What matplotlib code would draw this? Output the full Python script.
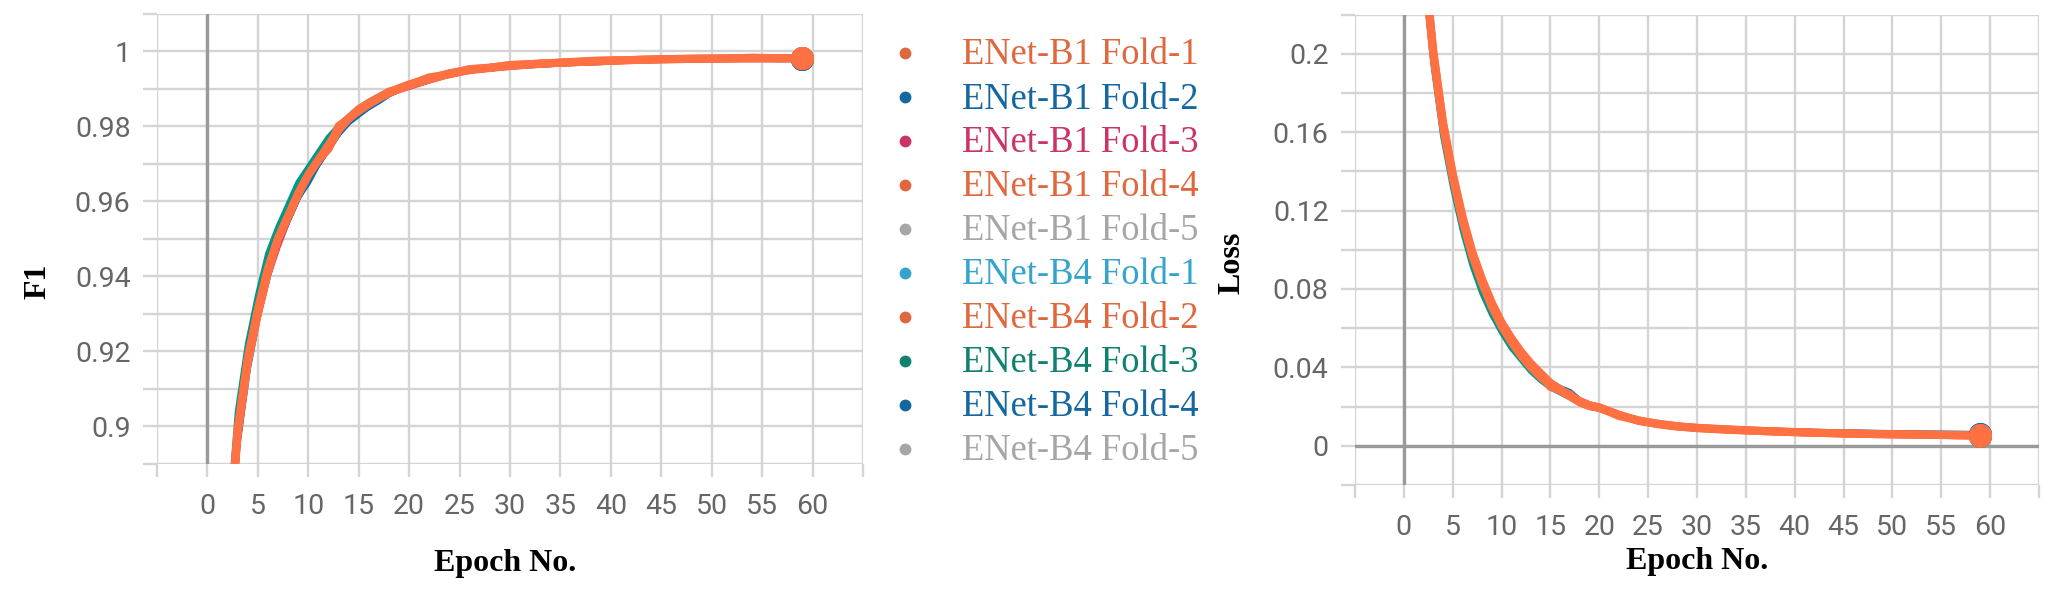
import matplotlib
matplotlib.use("Agg")
import matplotlib.pyplot as plt
from matplotlib.lines import Line2D

# ---------------- data ----------------
epochs = [0, 1, 2, 3, 4, 5, 6, 7, 8, 9, 10, 11, 12, 13, 14, 15, 16, 17, 18, 19,
          20, 22, 24, 26, 28, 30, 33, 36, 39, 42, 45, 48, 51, 54, 57, 59]

series_names = ["ENet-B1 Fold-1", "ENet-B1 Fold-2", "ENet-B1 Fold-3", "ENet-B1 Fold-4",
                "ENet-B1 Fold-5", "ENet-B4 Fold-1", "ENet-B4 Fold-2", "ENet-B4 Fold-3",
                "ENet-B4 Fold-4", "ENet-B4 Fold-5"]
legend_colors = ["#e0683f", "#15679f", "#cc3366", "#e0683f", "#a6a6a6",
                 "#35a4cc", "#e0683f", "#108070", "#15679f", "#a6a6a6"]
line_colors = ["#ff7043", "#0a6fb0", "#e8336e", "#ff7043", "#bbbbbb",
               "#33bbee", "#ff7043", "#009988", "#0a6fb0", "#bbbbbb"]

f1_b1_f1 = [0.700, 0.800, 0.865, 0.899, 0.918, 0.931, 0.942, 0.950, 0.956, 0.962, 0.967, 0.971, 0.974, 0.980, 0.982, 0.9845, 0.9860, 0.9876, 0.9892, 0.9898,
            0.9910, 0.9930, 0.9938, 0.9952, 0.9955, 0.9963, 0.9966, 0.9971, 0.9975, 0.9976, 0.9978, 0.9979, 0.9980, 0.9982, 0.9980, 0.9981]
f1_b1_f2 = [0.690, 0.795, 0.860, 0.895, 0.915, 0.929, 0.940, 0.949, 0.955, 0.961, 0.966, 0.970, 0.974, 0.978, 0.981, 0.9830, 0.9852, 0.9868, 0.9885, 0.9898,
            0.9908, 0.9922, 0.9938, 0.9948, 0.9953, 0.9958, 0.9963, 0.9968, 0.9970, 0.9975, 0.9976, 0.9978, 0.9979, 0.9978, 0.9978, 0.9979]
f1_b1_f3 = [0.695, 0.797, 0.862, 0.896, 0.916, 0.929, 0.940, 0.948, 0.955, 0.961, 0.966, 0.970, 0.974, 0.978, 0.981, 0.9835, 0.9855, 0.9872, 0.9886, 0.9896,
            0.9904, 0.9921, 0.9937, 0.9947, 0.9953, 0.9958, 0.9965, 0.9969, 0.9972, 0.9975, 0.9977, 0.9979, 0.9980, 0.9981, 0.9980, 0.9980]
f1_b1_f4 = [0.698, 0.799, 0.864, 0.898, 0.917, 0.930, 0.941, 0.950, 0.956, 0.962, 0.967, 0.971, 0.975, 0.979, 0.982, 0.9840, 0.9858, 0.9874, 0.9888, 0.9899,
            0.9909, 0.9924, 0.9939, 0.9949, 0.9955, 0.9960, 0.9966, 0.9970, 0.9973, 0.9976, 0.9978, 0.9979, 0.9980, 0.9980, 0.9981, 0.9981]
f1_b1_f5 = [0.702, 0.802, 0.866, 0.900, 0.919, 0.932, 0.943, 0.951, 0.957, 0.962, 0.967, 0.971, 0.975, 0.979, 0.982, 0.9842, 0.9860, 0.9875, 0.9889, 0.9900,
            0.9910, 0.9924, 0.9940, 0.9950, 0.9955, 0.9960, 0.9966, 0.9970, 0.9973, 0.9976, 0.9978, 0.9980, 0.9980, 0.9981, 0.9981, 0.9981]
f1_b4_f1 = [0.705, 0.805, 0.868, 0.902, 0.921, 0.934, 0.945, 0.952, 0.958, 0.964, 0.968, 0.972, 0.976, 0.980, 0.982, 0.9845, 0.9862, 0.9878, 0.9892, 0.9902,
            0.9912, 0.9927, 0.9942, 0.9951, 0.9957, 0.9962, 0.9967, 0.9971, 0.9974, 0.9977, 0.9979, 0.9980, 0.9981, 0.9981, 0.9981, 0.9981]
f1_b4_f2 = [0.700, 0.801, 0.866, 0.899, 0.918, 0.931, 0.942, 0.950, 0.956, 0.962, 0.967, 0.971, 0.974, 0.979, 0.982, 0.9844, 0.9862, 0.9876, 0.9890, 0.9901,
            0.9911, 0.9926, 0.9941, 0.9951, 0.9956, 0.9962, 0.9967, 0.9970, 0.9973, 0.9976, 0.9978, 0.9980, 0.9980, 0.9982, 0.9981, 0.9981]
f1_b4_f3 = [0.710, 0.810, 0.870, 0.904, 0.922, 0.935, 0.946, 0.953, 0.959, 0.965, 0.969, 0.973, 0.977, 0.980, 0.9825, 0.9848, 0.9865, 0.9880, 0.9893, 0.9903,
            0.9913, 0.9928, 0.9943, 0.9952, 0.9958, 0.9963, 0.9967, 0.9971, 0.9974, 0.9977, 0.9979, 0.9981, 0.9982, 0.9982, 0.9981, 0.9982]
f1_b4_f4 = [0.692, 0.796, 0.861, 0.896, 0.916, 0.930, 0.941, 0.949, 0.955, 0.961, 0.965, 0.970, 0.974, 0.978, 0.9810, 0.9832, 0.9850, 0.9866, 0.9884, 0.9897,
            0.9907, 0.9923, 0.9938, 0.9948, 0.9953, 0.9959, 0.9964, 0.9967, 0.9971, 0.9974, 0.9976, 0.9978, 0.9978, 0.9979, 0.9978, 0.9978]
f1_b4_f5 = [0.703, 0.803, 0.867, 0.901, 0.920, 0.933, 0.944, 0.951, 0.957, 0.963, 0.968, 0.972, 0.975, 0.979, 0.982, 0.9843, 0.9861, 0.9877, 0.9891, 0.9901,
            0.9911, 0.9926, 0.9941, 0.9950, 0.9956, 0.9961, 0.9966, 0.9970, 0.9974, 0.9977, 0.9979, 0.9980, 0.9981, 0.9981, 0.9981, 0.9981]

loss_b1_f1 = [0.450, 0.330, 0.252, 0.202, 0.165, 0.138, 0.116, 0.098, 0.084, 0.072, 0.062, 0.054, 0.047, 0.041, 0.036, 0.0300, 0.0282, 0.0262, 0.0222, 0.0205,
              0.0195, 0.0152, 0.0130, 0.0110, 0.0099, 0.0091, 0.0083, 0.0077, 0.0071, 0.0067, 0.0063, 0.0060, 0.0058, 0.0056, 0.0053, 0.0052]
loss_b1_f2 = [0.455, 0.334, 0.250, 0.199, 0.162, 0.136, 0.114, 0.096, 0.082, 0.070, 0.061, 0.053, 0.046, 0.040, 0.035, 0.0310, 0.0290, 0.0260, 0.0230, 0.0210,
              0.0198, 0.0160, 0.0130, 0.0114, 0.0101, 0.0093, 0.0086, 0.0080, 0.0075, 0.0071, 0.0068, 0.0066, 0.0064, 0.0062, 0.0061, 0.0060]
loss_b1_f3 = [0.452, 0.332, 0.251, 0.201, 0.164, 0.137, 0.115, 0.097, 0.083, 0.071, 0.061, 0.053, 0.046, 0.040, 0.0355, 0.0312, 0.0280, 0.0250, 0.0224, 0.0204,
              0.0192, 0.0156, 0.0127, 0.0111, 0.0098, 0.0090, 0.0082, 0.0076, 0.0070, 0.0066, 0.0062, 0.0059, 0.0057, 0.0055, 0.0053, 0.0052]
loss_b1_f4 = [0.449, 0.329, 0.250, 0.200, 0.163, 0.137, 0.115, 0.097, 0.083, 0.071, 0.061, 0.053, 0.046, 0.040, 0.035, 0.0310, 0.0282, 0.0252, 0.0222, 0.0202,
              0.0193, 0.0157, 0.0127, 0.0111, 0.0098, 0.0090, 0.0082, 0.0076, 0.0071, 0.0066, 0.0063, 0.0060, 0.0058, 0.0056, 0.0054, 0.0053]
loss_b1_f5 = [0.447, 0.328, 0.249, 0.199, 0.162, 0.136, 0.114, 0.096, 0.082, 0.070, 0.060, 0.052, 0.045, 0.039, 0.0345, 0.0305, 0.0278, 0.0250, 0.0220, 0.0200,
              0.0190, 0.0155, 0.0126, 0.0110, 0.0097, 0.0089, 0.0081, 0.0075, 0.0070, 0.0066, 0.0062, 0.0059, 0.0057, 0.0055, 0.0054, 0.0053]
loss_b4_f1 = [0.444, 0.325, 0.247, 0.197, 0.160, 0.134, 0.112, 0.094, 0.080, 0.069, 0.059, 0.051, 0.045, 0.039, 0.034, 0.0300, 0.0275, 0.0248, 0.0219, 0.0199,
              0.0189, 0.0154, 0.0125, 0.0109, 0.0096, 0.0088, 0.0080, 0.0075, 0.0069, 0.0065, 0.0062, 0.0059, 0.0057, 0.0055, 0.0053, 0.0052]
loss_b4_f2 = [0.450, 0.331, 0.252, 0.201, 0.165, 0.139, 0.117, 0.099, 0.085, 0.073, 0.063, 0.055, 0.048, 0.042, 0.037, 0.0320, 0.0288, 0.0257, 0.0228, 0.0207,
              0.0196, 0.0159, 0.0129, 0.0113, 0.0100, 0.0092, 0.0084, 0.0077, 0.0072, 0.0067, 0.0063, 0.0060, 0.0058, 0.0056, 0.0054, 0.0053]
loss_b4_f3 = [0.440, 0.322, 0.245, 0.195, 0.158, 0.132, 0.110, 0.092, 0.078, 0.067, 0.058, 0.050, 0.044, 0.038, 0.0335, 0.0298, 0.0272, 0.0246, 0.0218, 0.0198,
              0.0188, 0.0153, 0.0124, 0.0108, 0.0096, 0.0088, 0.0080, 0.0074, 0.0069, 0.0065, 0.0061, 0.0059, 0.0057, 0.0055, 0.0053, 0.0052]
loss_b4_f4 = [0.456, 0.335, 0.253, 0.202, 0.165, 0.138, 0.116, 0.098, 0.084, 0.072, 0.063, 0.055, 0.048, 0.042, 0.037, 0.0325, 0.0295, 0.0275, 0.0233, 0.0212,
              0.0200, 0.0162, 0.0131, 0.0115, 0.0102, 0.0094, 0.0087, 0.0081, 0.0076, 0.0072, 0.0069, 0.0067, 0.0065, 0.0063, 0.0062, 0.0061]
loss_b4_f5 = [0.446, 0.327, 0.248, 0.198, 0.161, 0.135, 0.113, 0.095, 0.081, 0.070, 0.060, 0.052, 0.045, 0.039, 0.0345, 0.0304, 0.0277, 0.0249, 0.0220, 0.0200,
              0.0190, 0.0155, 0.0126, 0.0110, 0.0097, 0.0089, 0.0081, 0.0075, 0.0070, 0.0066, 0.0062, 0.0059, 0.0057, 0.0055, 0.0054, 0.0053]

f1_series = [f1_b1_f1, f1_b1_f2, f1_b1_f3, f1_b1_f4, f1_b1_f5,
             f1_b4_f1, f1_b4_f2, f1_b4_f3, f1_b4_f4, f1_b4_f5]
loss_series = [loss_b1_f1, loss_b1_f2, loss_b1_f3, loss_b1_f4, loss_b1_f5,
               loss_b4_f1, loss_b4_f2, loss_b4_f3, loss_b4_f4, loss_b4_f5]

x_ticks = [-5, 0, 5, 10, 15, 20, 25, 30, 35, 40, 45, 50, 55, 60, 65]
x_tick_labels = ["", "0", "5", "10", "15", "20", "25", "30", "35", "40", "45", "50", "55", "60", ""]
f1_ticks = [0.89, 0.90, 0.91, 0.92, 0.93, 0.94, 0.95, 0.96, 0.97, 0.98, 0.99, 1.00, 1.01]
f1_tick_labels = ["", "0.9", "", "0.92", "", "0.94", "", "0.96", "", "0.98", "", "1", ""]
loss_ticks = [-0.02, 0.0, 0.02, 0.04, 0.06, 0.08, 0.10, 0.12, 0.14, 0.16, 0.18, 0.20, 0.22]
loss_tick_labels = ["", "0", "", "0.04", "", "0.08", "", "0.12", "", "0.16", "", "0.2", ""]

# ---------------- figure ----------------
W, H = 2058, 600
fig = plt.figure(figsize=(W / 100, H / 100), dpi=100)

GRID = "#d4d4d4"
ZERO = "#9a9a9a"
TICKC = "#666666"
TICKFONT = "Roboto"
SERIF = "Liberation Serif"

def px_rect(x0, y0, x1, y1):
    return [x0 / W, 1 - y1 / H, (x1 - x0) / W, (y1 - y0) / H]

ax1 = fig.add_axes(px_rect(157, 13.5, 863, 464))
ax2 = fig.add_axes(px_rect(1355, 14.5, 2039, 485))

# draw order: non-orange first, orange last
order = [4, 9, 1, 2, 5, 7, 8, 3, 6, 0]

def style(ax, yt, ytl, ylim):
    ax.set_xlim(-5, 65)
    ax.set_ylim(*ylim)
    for s in ax.spines.values():
        s.set_visible(False)
    ax.set_xticks(x_ticks, x_tick_labels)
    ax.set_yticks(yt, ytl)
    ax.grid(True, color=GRID, lw=1.7, zorder=0)
    ax.set_axisbelow(True)
    ax.tick_params(axis="x", length=9, width=1.7, color=GRID, pad=12,
                   labelsize=20.5, labelcolor=TICKC)
    ax.tick_params(axis="y", length=10, width=1.7, color=GRID, pad=9,
                   labelsize=20.5, labelcolor=TICKC)
    for lab in ax.get_xticklabels() + ax.get_yticklabels():
        lab.set_fontfamily(TICKFONT)

style(ax1, f1_ticks, f1_tick_labels, (0.89, 1.01))
style(ax2, loss_ticks, loss_tick_labels, (-0.02, 0.22))

ax1.axvline(0, color=ZERO, lw=2.4, zorder=1)
ax2.axvline(0, color=ZERO, lw=2.4, zorder=1)
ax2.axhline(0, color=ZERO, lw=2.4, zorder=1)

for ax, data in ((ax1, f1_series), (ax2, loss_series)):
    for k, i in enumerate(order):
        orange = line_colors[i] == "#ff7043"
        lw = 5.8 if orange else 4.2
        ax.plot(epochs, data[i], color=line_colors[i], lw=lw, zorder=3 + k,
                solid_capstyle="round", solid_joinstyle="round")
    for k, i in enumerate(order):
        ax.plot(epochs[-1:], data[i][-1:], "o", color=line_colors[i], ms=15.5,
                mec=line_colors[i], zorder=20 + k, clip_on=False)

# axis labels
fig.text(38 / W, 1 - 281 / H, "F1", rotation=90, ha="center", va="center",
         fontfamily=SERIF, fontweight="bold", fontsize=23)
fig.text(1232 / W, 1 - 263 / H, "Loss", rotation=90, ha="center", va="center",
         fontfamily=SERIF, fontweight="bold", fontsize=23)
fig.text(505 / W, 1 - 563 / H, "Epoch No.", ha="center", va="center",
         fontfamily=SERIF, fontweight="bold", fontsize=23)
fig.text(1697 / W, 1 - 562 / H, "Epoch No.", ha="center", va="center",
         fontfamily=SERIF, fontweight="bold", fontsize=23)

# legend (manual)
for i, (name, col) in enumerate(zip(series_names, legend_colors)):
    yrow = 53 + 44 * i
    fig.add_artist(Line2D([905 / W], [1 - yrow / H], marker="o", ms=7.5,
                          color=col, mec=col, linestyle="none",
                          transform=fig.transFigure))
    fig.text(962 / W, 1 - (yrow + 11.5) / H, name, ha="left", va="baseline",
             color=col, fontfamily=SERIF, fontsize=26.3)

fig.savefig("out.png", dpi=100)
